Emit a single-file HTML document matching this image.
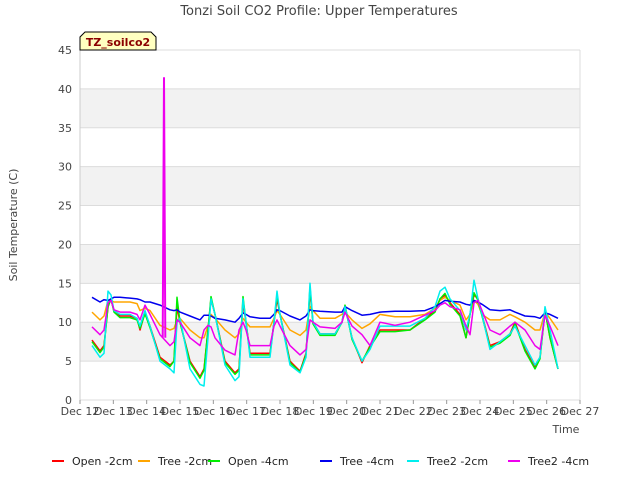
<!DOCTYPE html>
<html><head><meta charset="utf-8"><style>
body{margin:0;background:#fff;font-family:"Liberation Sans","DejaVu Sans",sans-serif;}
svg text{font-family:"DejaVu Sans","Liberation Sans",sans-serif;}
</style></head><body>
<svg id="chart" width="640" height="480" xmlns="http://www.w3.org/2000/svg">
<rect width="640" height="480" fill="#fff"/>
<text x="319" y="15" text-anchor="middle" font-size="13" fill="#444">Tonzi Soil CO2 Profile: Upper Temperatures</text>
<g id="grid"></g>
<g id="axes"></g>
<g id="series"></g>
<g>
<path d="M80,50 L80,37 L85,32 L151,32 L156,37 L156,50 Z" fill="#ffffc0" stroke="#000" stroke-width="1"/>
<text x="118" y="46" text-anchor="middle" font-size="11" font-weight="bold" fill="#8b0000">TZ_soilco2</text>
</g>
<text transform="translate(17,225) rotate(-90)" text-anchor="middle" font-size="11" fill="#444">Soil Temperature (C)</text>
<text x="566" y="433" text-anchor="middle" font-size="11" fill="#444">Time</text>
<g id="legend"></g>
</svg>
<script>
const yTicks=[0,5,10,15,20,25,30,35,40,45];
const xTickLabels=["Dec 12","Dec 13","Dec 14","Dec 15","Dec 16","Dec 17","Dec 18","Dec 19","Dec 20","Dec 21","Dec 22","Dec 23","Dec 24","Dec 25","Dec 26","Dec 27"];
const xTickDays=[12,13,14,15,16,17,18,19,20,21,22,23,24,25,26,27];
const times=[12.36,12.6,12.72,12.84,12.93,13.02,13.2,13.5,13.71,13.8,13.95,14.1,14.4,14.7,14.82,14.91,15.0,15.3,15.6,15.72,15.84,15.93,16.05,16.35,16.65,16.77,16.89,16.98,17.1,17.4,17.7,17.82,17.91,18.0,18.3,18.6,18.78,18.9,18.99,19.2,19.65,19.86,19.95,20.16,20.46,20.7,21.0,21.45,21.9,22.35,22.65,22.8,22.95,23.1,23.4,23.58,23.7,23.82,23.94,24.06,24.3,24.6,24.9,25.05,25.35,25.65,25.8,25.95,26.1,26.34];
const open2=[7.7,6.3,7,12,13,11.5,10.8,10.8,10.5,9,11.3,9.5,5.5,4.5,5,12,10,5,3,4,9,13,11,5,3.5,4,12.5,10,6,6,6,10,13,11,5,3.7,6,14,10,8.5,8.5,10,12,8,4.8,7,9,9,9,10.5,11.5,13,13.5,12.5,11,8,11,13.5,13,11,7,7.5,8.5,10,6.5,4.2,5.5,11.5,8,4];
const tree2=[11.3,10.3,10.8,12.8,12.8,12.6,12.6,12.6,12.4,11.5,11.8,11.5,9.6,9,9.2,10.3,10.5,9,8,8,9.5,11,10.5,9,8,8.5,10.5,10,9.4,9.4,9.4,10.5,11.5,11,9,8.3,9,12,11.5,10.5,10.5,11,11.3,10.3,9.2,9.8,11,10.7,10.7,11,11.8,12.8,13.2,12.8,12.2,10.3,11,12.8,12.3,11,10.3,10.3,11,10.7,10,9,9,11.3,10.5,9];
const open4=[7.5,6.1,6.8,12,13,11.3,10.6,10.6,10.3,9.2,11.1,9.3,5.3,4.3,5,13.2,10,4.8,2.8,3.8,9,13.3,11,4.8,3.3,3.8,13.3,10,5.8,5.8,5.8,10,13.5,11,4.8,3.6,5.8,14.5,9.8,8.3,8.3,10,12.2,7.8,5,6.8,8.8,8.8,9,10.3,11.3,13,13.7,12.3,10.8,8,11,13.8,12.8,10.8,6.8,7.3,8.3,9.8,6.3,4,5.3,11.5,8,4];
const tree4=[13.2,12.6,12.9,12.8,13,13.2,13.2,13.1,13,12.9,12.6,12.6,12.2,11.6,11.5,11.6,11.3,10.8,10.3,10.9,10.9,10.8,10.5,10.3,10,10.5,11.2,11,10.7,10.5,10.5,11,11.6,11.5,10.8,10.3,10.8,11.6,11.5,11.4,11.3,11.3,12,11.5,10.9,11,11.3,11.4,11.4,11.5,12,12.4,12.8,12.7,12.6,12.3,12.2,12.8,12.6,12.3,11.6,11.5,11.6,11.3,10.8,10.7,10.5,11.2,11,10.5];
const tree2m2=[7,5.5,6,14,13.5,11.5,11,11,10.5,9.5,11.5,9.5,5,4,3.5,10,10.5,4,2,1.8,8,13,11,4.5,2.5,3,13,10,5.5,5.5,5.5,10,14,11,4.5,3.5,5.5,15,10,8.5,8.5,10,12,8,5,6.5,9.5,9.5,9.5,10.5,12,14,14.5,13,11.5,9,11,15.4,13,11,6.5,7.5,8.5,9.5,7,4.5,5.5,12,9,4];
const tree2m4=[9.4,8.4,9,12.5,12.8,11.6,11.3,11.3,11,10.3,12.2,11,8.4,7,7.5,10.3,10,8,7,9,9.6,9.4,8,6.4,5.8,9,10,9,7,7,7,9.5,10.3,9.5,7,5.8,6.5,10.3,10,9.4,9.2,10,11.3,9.5,8.4,7,10,9.6,10,10.9,11.5,12.2,12.5,12,11.6,9.5,8.4,12.5,12.8,11.5,9,8.4,9.5,10,9,7,6.5,10.9,9.5,7];
const spikeTimes=[14.48,14.52,14.56];
const spikeVals=[8,41.5,8];
const seriesNames=["Open -2cm","Tree -2cm","Open -4cm","Tree -4cm","Tree2 -2cm","Tree2 -4cm"];
const seriesColors=["#ff0000","#ffa500","#00ee00","#0000ee","#00eeee","#ee00ee"];
const seriesData=[open2,tree2,open4,tree4,tree2m2,tree2m4];

const NS="http://www.w3.org/2000/svg";
const X0=80,X1=580,Y0=400,Y1=50;
function xs(d){return X0+(d-12)/15*(X1-X0);}
function ys(v){return Y0-v/45*(Y0-Y1);}
function mk(tag,attrs,parent){const e=document.createElementNS(NS,tag);for(const k in attrs)e.setAttribute(k,attrs[k]);parent.appendChild(e);return e;}
const grid=document.getElementById('grid'),axes=document.getElementById('axes'),ser=document.getElementById('series'),leg=document.getElementById('legend');
for(let i=0;i<yTicks.length-1;i++){
  if(i%2===1){const r=mk('rect',{x:X0,y:ys(yTicks[i+1]),width:X1-X0,height:ys(yTicks[i])-ys(yTicks[i+1]),fill:'#f2f2f2'},grid);
  
  }
}
yTicks.forEach(v=>{
  const l=mk('line',{x1:X0,x2:X1,y1:ys(v),y2:ys(v),stroke:'#dcdcdc','stroke-width':1},grid);
  
  
  const t=mk('text',{x:X0-8,y:ys(v)+4,'text-anchor':'end','font-size':11,fill:'#444'},axes);
  t.textContent=v;
  
  
});
mk('line',{x1:X0,x2:X0,y1:Y1,y2:Y0,stroke:'#ccc'},grid);
mk('line',{x1:X1,x2:X1,y1:Y1,y2:Y0,stroke:'#ddd'},grid);
xTickDays.forEach((d,i)=>{
  mk('line',{x1:xs(d),x2:xs(d),y1:Y0,y2:Y0+4,stroke:'#999'},axes);
  const t=mk('text',{x:xs(d),y:Y0+15,'text-anchor':'middle','font-size':11,fill:'#444'},axes);
  t.textContent=xTickLabels[i];
  
  
});
function pathOf(ts,vs){return ts.map((t,i)=>(i?'L':'M')+xs(t).toFixed(1)+','+ys(vs[i]).toFixed(1)).join(' ');}
seriesData.forEach((vals,si)=>{
  const p=mk('path',{d:pathOf(times,vals),fill:'none',stroke:seriesColors[si],'stroke-width':1.5,'stroke-linejoin':'round'},ser);
  
  
});
const sp=mk('path',{d:pathOf(spikeTimes,spikeVals),fill:'none',stroke:seriesColors[5],'stroke-width':2},ser);


const legX=[52,138,208,320,407,508];
seriesNames.forEach((n,i)=>{
  const g=mk('g',{},leg);
  
  
  mk('line',{x1:legX[i],x2:legX[i]+12,y1:461,y2:461,stroke:seriesColors[i],'stroke-width':2},g);
  const t=mk('text',{x:legX[i]+20,y:465,'font-size':11,fill:'#222'},g);
  t.textContent=n;
});
</script>
</body></html>
